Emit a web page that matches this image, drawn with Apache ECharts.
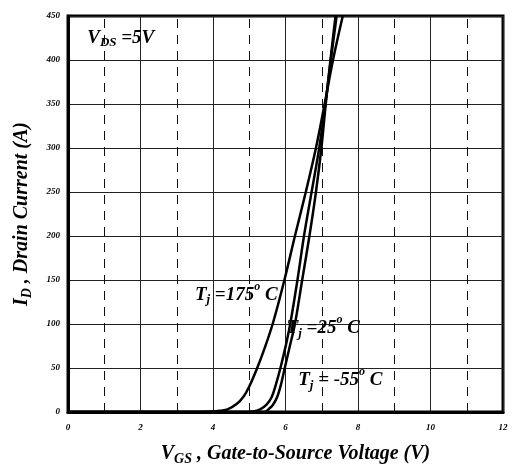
<!DOCTYPE html>
<html>
<head>
<meta charset="utf-8">
<script src="https://cdn.jsdelivr.net/npm/echarts@6/dist/echarts.min.js"></script>
<style>
html,body{margin:0;padding:0;background:#fff;}
#chart{width:522px;height:467px;}
</style>
</head>
<body>
<div id="chart"></div>
<script>
// ---- Data ----
var xTicks = [0, 2, 4, 6, 8, 10, 12];
var yTicks = [0, 50, 100, 150, 200, 250, 300, 350, 400, 450];
var dashedGridX = [1, 3, 5, 7, 9, 11];

var vgs175 = [0, 3.6, 4.0, 4.2, 4.4, 4.65, 4.85, 5.0, 5.2, 5.42, 5.66, 5.97, 6.26, 6.56, 6.84, 7.08, 7.31, 7.58];
var id175  = [0, 0, 0.5, 1.5, 3, 9, 18, 29, 48, 72, 102, 150, 200, 250, 300, 350, 400, 450];

var vgs25 = [0, 4.9, 5.1, 5.3, 5.47, 5.62, 5.74, 5.86, 6.0, 6.13, 6.33, 6.51, 6.72, 6.93, 7.10, 7.25, 7.41];
var id25  = [0, 0, 0.5, 3, 8, 17, 32, 50, 74, 100, 150, 200, 250, 300, 350, 400, 450];

var vgsM55 = [0, 5.35, 5.45, 5.53, 5.65, 5.77, 5.88, 5.98, 6.12, 6.26, 6.46, 6.66, 6.84, 6.99, 7.11, 7.24, 7.38];
var idM55  = [0, 0, 0.5, 3, 8, 17, 32, 50, 75, 100, 150, 200, 250, 300, 350, 400, 450];

// annotation anchors (data coords, left-middle of text)
var labelVds  = [0.53, 425];
var label175  = [3.5, 133];
var label25   = [6.03, 95];
var labelM55  = [6.35, 36];

function pairs(xs, ys){ return xs.map(function(x,i){ return [x, ys[i]]; }); }

var FONT = '"Liberation Serif", "Times New Roman", serif';
var base = {fontFamily: FONT, fontWeight: 'bold', fontStyle: 'italic', color: '#000'};
function st(o){ var r = {}; for (var k in base) r[k]=base[k]; for (var k2 in o) r[k2]=o[k2]; return r; }

var richAnno = {
  n: st({fontSize: 19}),
  sub: st({fontSize: 13, padding: [10, 0, 0, 0]}),
  sup: st({fontSize: 12, padding: [0, 0, 16, 0]})
};

var chart = echarts.init(document.getElementById('chart'), null, {renderer: 'canvas'});

var curveStyle = {color: '#000', width: 2.5};

function annot(coord, text){
  return {
    coord: coord,
    symbol: 'circle', symbolSize: 0,
    label: {show: true, position: 'right', distance: 0, formatter: text, rich: richAnno}
  };
}

var option = {
  animation: false,
  backgroundColor: '#fff',
  grid: {left: 68, right: 19, top: 16, bottom: 55, show: true, borderColor: '#000', borderWidth: 3,
         backgroundColor: 'transparent', containLabel: false, outerBoundsMode: 'none'},
  xAxis: {
    type: 'value', min: 0, max: 12, interval: 2,
    name: '{v|V}{s|GS}{n| , Gate-to-Source Voltage (V)}',
    nameLocation: 'middle', nameGap: 30,
    nameTextStyle: {padding: [0, 0, 0, 20], rich: {
      v: st({fontSize: 20}),
      s: st({fontSize: 14, padding: [10, 0, 0, 0]}),
      n: st({fontSize: 20})
    }},
    axisLine: {show: true, lineStyle: {color: '#000', width: 3}},
    axisTick: {show: false},
    axisLabel: {margin: 11, fontFamily: FONT, fontWeight: 'bold', fontStyle: 'italic', fontSize: 9, color: '#000',
      formatter: function(v){ return xTicks.indexOf(v) >= 0 ? String(v) : ''; }},
    splitLine: {show: true, lineStyle: {color: '#222', width: 1, type: 'solid'}}
  },
  yAxis: {
    type: 'value', min: 0, max: 450, interval: 50,
    name: '{v|I}{s|D}{n| , Drain Current (A)}',
    nameLocation: 'middle', nameGap: 34, nameRotate: 90,
    nameTextStyle: {rich: {
      v: st({fontSize: 20}),
      s: st({fontSize: 14, padding: [10, 0, 0, 0]}),
      n: st({fontSize: 20})
    }},
    axisLine: {show: true, lineStyle: {color: '#000', width: 3}},
    axisTick: {show: false},
    axisLabel: {margin: 8, fontFamily: FONT, fontWeight: 'bold', fontStyle: 'italic', fontSize: 9, color: '#000',
      formatter: function(v){ return yTicks.indexOf(v) >= 0 ? String(v) : ''; }},
    splitLine: {show: true, lineStyle: {color: '#222', width: 1}}
  },
  series: [
    {
      name: 'Tj=175', type: 'line', data: pairs(vgs175, id175), showSymbol: false,
      smooth: 0.35, lineStyle: curveStyle, clip: true, z: 5,
      markLine: {
        silent: true, symbol: ['none', 'none'], label: {show: false},
        lineStyle: {color: '#111', width: 1, type: [9, 7]},
        data: dashedGridX.map(function(x){ return {xAxis: x}; })
      }
    },
    {name: 'Tj=25', type: 'line', data: pairs(vgs25, id25), showSymbol: false,
      smooth: 0.35, lineStyle: curveStyle, clip: true, z: 5},
    {name: 'Tj=-55', type: 'line', data: pairs(vgsM55, idM55), showSymbol: false,
      smooth: 0.35, lineStyle: curveStyle, clip: true, z: 5,
      markPoint: {
        silent: true,
        data: [
          annot(labelVds, '{n|V}{sub|DS}{n| =5V}'),
          annot(label175, '{n|T}{sub|j}{n| =175}{sup|o}{n| C}'),
          annot(label25, '{n|T}{sub|j}{n| =25}{sup|o}{n| C}'),
          annot(labelM55, '{n|T}{sub|j}{n| = -55}{sup|o}{n| C}')
        ]
      }
    }
  ]
};
chart.setOption(option);
</script>
</body>
</html>
